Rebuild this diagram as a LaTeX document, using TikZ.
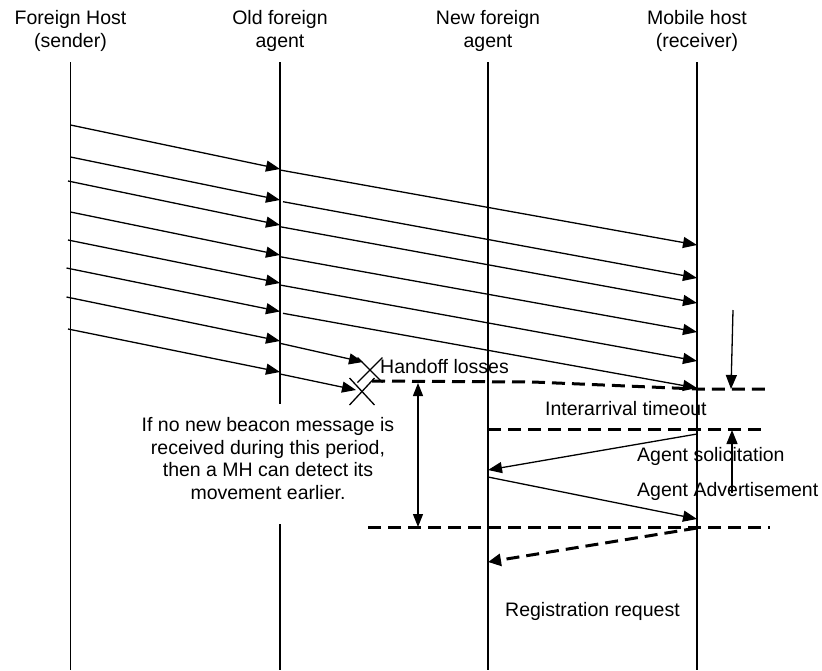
\documentclass[tikz,border=0pt]{standalone}
\usepackage{fontspec}
\setmainfont{Liberation Sans}
\usetikzlibrary{arrows.meta}

\tikzset{
  lifeline/.style={line width=1.3pt},
  msg/.style={line width=1.3pt, -{Triangle[length=14pt,width=11pt]}},
  twoway/.style={line width=1.3pt, {Triangle[length=13pt,width=10pt]}-{Triangle[length=13pt,width=10pt]}},
  bar/.style={line width=3pt, dash pattern=on 13pt off 7pt},
  dashmsg/.style={bar, -{Triangle[length=13pt,width=12pt]}},
  cross/.style={line width=1.3pt},
  lbl/.style={inner sep=0pt, font=\fontsize{19.5}{22.5}\selectfont, align=center}
}

\begin{document}
\begin{tikzpicture}[x=1pt, y=-1pt]
  \useasboundingbox (0,0) rectangle (822,670);

  % column headings
  \node[lbl] (fh)  at (70.5,31) {Foreign Host\\(sender)};
  \node[lbl] (ofa) at (280,31)  {Old foreign\\agent};
  \node[lbl] (nfa) at (488,31)  {New foreign\\agent};
  \node[lbl] (mh)  at (697,31)  {Mobile host\\(receiver)};

  % lifelines
  \coordinate (fhT)  at (70.5,62);  \coordinate (fhB)  at (70.5,670);
  \coordinate (ofaT) at (280,62);   \coordinate (ofaB) at (280,670);
  \coordinate (ofaG1) at (280,404); \coordinate (ofaG2) at (280,524);
  \coordinate (nfaT) at (488,62);   \coordinate (nfaB) at (488,670);
  \coordinate (mhT)  at (697,62);   \coordinate (mhB)  at (697,670);
  \draw[lifeline] (fhT) -- (fhB);
  \draw[lifeline] (ofaT) -- (ofaG1);
  \draw[lifeline] (ofaG2) -- (ofaB);
  \draw[lifeline] (nfaT) -- (nfaB);
  \draw[lifeline] (mhT) -- (mhB);

  % packets from the sender to the old foreign agent
  \foreach \i/\xa/\ya/\yb in {1/70.5/125/169, 2/70.5/157/200, 3/68/181/225,
      4/70.5/212/255, 5/68/240/283, 6/66.5/268/311.5, 7/66.5/297/341, 8/68/329/372} {
    \coordinate (s\i) at (\xa,\ya);
    \coordinate (o\i) at (280,\yb);
    \draw[msg] (s\i) -- (o\i);
  }

  % packets forwarded from the old foreign agent to the mobile host
  \foreach \i/\xa/\ya/\yb in {1/280/170/245, 2/283/201.7/278, 3/280/226.7/303,
      4/280/256.7/332, 5/280/285/361, 6/283/313.3/388} {
    \coordinate (f\i) at (\xa,\ya);
    \coordinate (m\i) at (697,\yb);
    \draw[msg] (f\i) -- (m\i);
  }

  % forwarded packets that are lost during the handoff
  \coordinate (f7) at (280,343.3); \coordinate (l7) at (363,362);
  \coordinate (f8) at (280,374);   \coordinate (l8) at (356,390);
  \draw[msg] (f7) -- (l7);
  \draw[msg] (f8) -- (l8);
  \coordinate (x1) at (370,370);
  \coordinate (x2) at (362,391.5);
  \draw[cross] ([shift={(-12.5,-12.5)}]x1) -- ([shift={(12.5,12.5)}]x1);
  \draw[cross] ([shift={(-12.5,12.5)}]x1) -- ([shift={(12.5,-12.5)}]x1);
  \draw[cross] ([shift={(-12.5,-13.5)}]x2) -- ([shift={(12.5,13.5)}]x2);
  \draw[cross] ([shift={(-12.5,13.5)}]x2) -- ([shift={(12.5,-13.5)}]x2);

  % dashed time marks
  \coordinate (h0) at (372,381); \coordinate (h1) at (533,382);
  \coordinate (h2) at (697,389); \coordinate (h3) at (765,389);
  \draw[bar] (h0) -- (h1) -- (h2) -- (h3);
  \coordinate (t0) at (488,429); \coordinate (t1) at (768,429);
  \draw[bar] (t0) -- (t1);
  \coordinate (b0) at (368,527); \coordinate (b1) at (770,527);
  \draw[bar] (b0) -- (b1);

  % interarrival timeout markers
  \coordinate (d0) at (733,310); \coordinate (d1) at (731,389);
  \draw[msg] (d0) -- (d1);
  \coordinate (u0) at (732,493); \coordinate (u1) at (732,430);
  \draw[msg] (u0) -- (u1);

  % detection period
  \coordinate (v0) at (418,383); \coordinate (v1) at (418,527);
  \draw[twoway] (v0) -- (v1);

  % agent discovery and registration
  \coordinate (sol0) at (697,434); \coordinate (sol1) at (488,470);
  \draw[msg] (sol0) -- (sol1);
  \coordinate (adv0) at (488,477); \coordinate (adv1) at (697,519);
  \draw[msg] (adv0) -- (adv1);
  \coordinate (reg0) at (697,528); \coordinate (reg1) at (488,562);
  \draw[dashmsg] (reg0) -- (reg1);

  % labels
  \node[lbl, anchor=base west] (hl)  at (380,373.3) {Handoff losses};
  \node[lbl, anchor=base west] (iat) at (545,415)   {Interarrival timeout};
  \node[lbl, anchor=base west] (as)  at (637,461)   {Agent solicitation};
  \node[lbl, anchor=base west] (aa)  at (637,496)   {Agent Advertisement};
  \node[lbl, anchor=base west] (rr)  at (505,616.7) {Registration request};
  \node[lbl] (note) at (268,458.7) {If no new beacon message is\\received during this period,\\then a MH can detect its\\movement earlier.};
\end{tikzpicture}
\end{document}
